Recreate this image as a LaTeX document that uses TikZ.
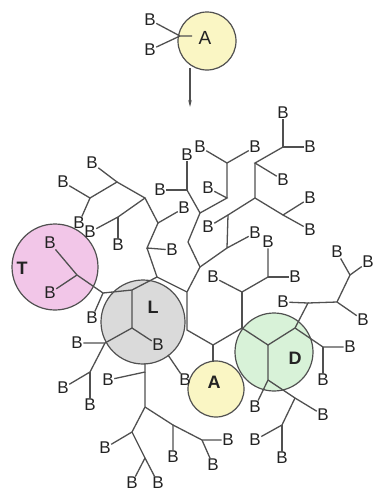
\documentclass[tikz,border=0pt]{standalone}
\usepackage{fontspec}
\setmainfont{Liberation Sans}
\usetikzlibrary{arrows.meta}
\definecolor{ln}{RGB}{80,80,80}
\definecolor{yel}{RGB}{250,246,196}
\definecolor{pnk}{RGB}{242,198,232}
\definecolor{gry}{RGB}{218,218,218}
\definecolor{grn}{RGB}{216,242,216}
\definecolor{txt}{RGB}{35,35,35}
\begin{document}
\begin{tikzpicture}[x=1pt,y=-1pt,
  bb/.style={font=\fontsize{17}{17}\selectfont, inner sep=0.4pt, text=txt},
  ed/.style={draw=ln, line width=1.3pt},
  blob/.style={circle, draw=ln, line width=1.2pt, inner sep=0pt},
  lab/.style={font=\fontsize{18}{18}\selectfont\bfseries, text=txt}]
\path[use as bounding box] (0,0) rectangle (377,491);
% circles
\node[blob, fill=yel, minimum size=58pt] (Atop) at (207,41) {};
\node[blob, fill=pnk, minimum size=86pt] (Tc) at (55,267) {};
\node[blob, fill=gry, minimum size=84pt] (Lc) at (143,322) {};
\node[blob, fill=grn, minimum size=78pt] (Dc) at (274,352) {};
\node[blob, fill=yel, minimum size=56pt] (Ac) at (216,389) {};
% labels
\node[font=\fontsize{19}{19}\selectfont, text=txt] (Atl) at (205,38) {A};
\node[lab] (Tl) at (22,268) {T};
\node[lab] (Ll) at (153,307) {L};
\node[lab] (Dl) at (295,358) {D};
\node[lab] (Al) at (214,382) {A};
% B nodes
\foreach \n/\x/\y in {t1/150/20, t2/150/50,
  1/92/163, 2/63/182, 3/79/223, 4/90/232, 5/118/245, 6/184/208, 7/172/250,
  8/187/155, 9/160/190, 10/200/147, 11/255/147, 12/283/113, 13/310/147,
  14/283/180, 15/208/188, 17/310/198, 18/310/230, 19/208/227, 20/255/233,
  21/268/242, 22/295/277, 23/213/277, 24/50/243, 25/50/293, 26/92/318,
  27/158/345, 28/77/343, 29/63/388, 30/90/405, 31/108/380, 32/185/380,
  33/105/448, 34/132/483, 35/158/483, 36/173/457, 37/228/440, 38/213/465,
  39/255/407, 40/323/415, 41/255/440, 42/282/458, 43/323/380, 44/350/347,
  45/363/320, 46/283/302, 47/337/252, 48/368/262}
  \node[bb] (b\n) at (\x,\y) {B};
% junctions
\foreach \n/\x/\y in {A/180/36, Ae/192/36, Aa/190/68, Ab/190/107,
  1/117/182, 2/90/198, 3/145/198, 4/118/217, 5/158/223, 6/147/248, 7/157/277,
  8/132/290, 9/103/293, 10/187/190, 11/200/213, 12/227/163, 13/227/198,
  14/188/242, 15/200/267, 16/187/292, 17/187/330, 18/213/345, 19/283/147,
  20/255/163, 21/255/198, 22/283/215, 23/228/215, 24/227/248, 25/242/292,
  26/268/277, 27/242/328, 28/268/345, 29/295/328, 30/308/303, 31/337/302,
  32/350/275, 33/323/347, 34/268/380, 35/295/398, 36/282/425, 37/132/328,
  38/105/343, 39/90/372, 40/145/372, 41/145/407, 42/132/432, 43/145/458,
  44/173/425, 45/202/440, T/77/275, Lb/145/363, Ls/168/355, As/213/362}
  \coordinate (j\n) at (\x,\y);
% top A
\draw[ed] (bt1) -- (jA) -- (jAe);
\draw[ed] (bt2) -- (jA);
\draw[ln, line width=1.1pt, -{Stealth[length=7pt,width=3.5pt]}] (jAa) -- (jAb);
% upper-left
\draw[ed] (b1) -- (j1) -- (j2) -- (b2);
\draw[ed] (j2) -- (b3);
\draw[ed] (j1) -- (j3) -- (j4) -- (b4);
\draw[ed] (j4) -- (b5);
\draw[ed] (j3) -- (j5) -- (b6);
\draw[ed] (j5) -- (j6) -- (b7);
\draw[ed] (j6) -- (j7) -- (j8) -- (j9) -- (jT);
\draw[ed] (j7) -- (j16);
\draw[ed] (j9) -- (b26);
\draw[ed] (jT) -- (b24);
\draw[ed] (jT) -- (b25);
% L
\draw[ed] (j8) -- (j37) -- (b27);
\draw[ed] (j37) -- (j38) -- (b28);
\draw[ed] (j38) -- (j39) -- (b29);
\draw[ed] (j39) -- (b30);
\draw[ed] (jLb) -- (j40) -- (b31);
\draw[ed] (j40) -- (j41) -- (j42) -- (b33);
\draw[ed] (j42) -- (j43) -- (b34);
\draw[ed] (j43) -- (b35);
\draw[ed] (j41) -- (j44) -- (b36);
\draw[ed] (j44) -- (j45) -- (b37);
\draw[ed] (j45) -- (b38);
\draw[ed] (jLs) -- (b32);
% top centre
\draw[ed] (b8) -- (j10) -- (b9);
\draw[ed] (j10) -- (j11) -- (j13) -- (b15);
\draw[ed] (j13) -- (j12) -- (b10);
\draw[ed] (j12) -- (b11);
\draw[ed] (j11) -- (j14) -- (j15) -- (j16) -- (j17) -- (j18) -- (j27);
\draw[ed] (j18) -- (jAs);
\draw[ed] (j15) -- (j24);
% right upper
\draw[ed] (b12) -- (j19) -- (b13);
\draw[ed] (j19) -- (j20) -- (b14);
\draw[ed] (j20) -- (j21) -- (j22) -- (b17);
\draw[ed] (j22) -- (b18);
\draw[ed] (j21) -- (j23) -- (b19);
\draw[ed] (j23) -- (j24) -- (b20);
\draw[ed] (b23) -- (j25) -- (j26) -- (b21);
\draw[ed] (j26) -- (b22);
\draw[ed] (j25) -- (j27);
% D
\draw[ed] (j27) -- (j28) -- (j29) -- (j30) -- (b46);
\draw[ed] (j30) -- (j31) -- (b45);
\draw[ed] (j31) -- (j32) -- (b47);
\draw[ed] (j32) -- (b48);
\draw[ed] (j29) -- (j33) -- (b44);
\draw[ed] (j33) -- (b43);
\draw[ed] (j28) -- (j34) -- (b39);
\draw[ed] (j34) -- (j35) -- (b40);
\draw[ed] (j35) -- (j36) -- (b41);
\draw[ed] (j36) -- (b42);
\end{tikzpicture}
\end{document}
